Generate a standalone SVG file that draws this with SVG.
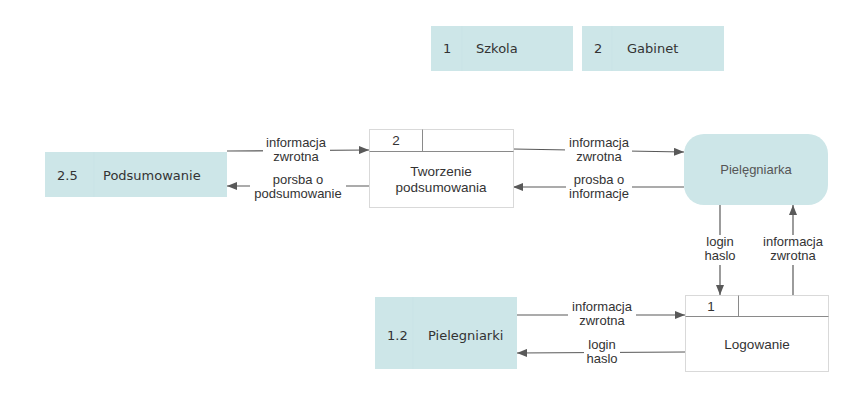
<svg xmlns="http://www.w3.org/2000/svg" width="867" height="409" viewBox="0 0 867 409">
<defs>
<marker id="ah" markerWidth="10" markerHeight="8" refX="10" refY="4" orient="auto" markerUnits="userSpaceOnUse">
<path d="M0,0 L10,4 L0,8 Z" fill="#595959"/>
</marker>
<style>
.store{fill:#cde6e8;stroke:none}
.div{stroke:#c9e3e6;stroke-width:1}
.st{font-family:"DejaVu Sans",Verdana,sans-serif;font-size:13px;fill:#333}
.proc{fill:#fff;stroke:#d9d9d9;stroke-width:1}
.pl{stroke:#8a8a8a;stroke-width:1}
.pt{font-family:"Liberation Sans",Arial,sans-serif;font-size:13.5px;fill:#333;text-anchor:middle}
.ent{fill:#cde6e8;stroke:none}
.et{font-family:"Liberation Sans",Arial,sans-serif;font-size:13px;fill:#555;text-anchor:middle}
.c{stroke:#595959;stroke-width:1.2;fill:none;marker-end:url(#ah)}
.lbg{fill:#fff}
.lt{font-family:"Liberation Sans",Arial,sans-serif;font-size:13px;fill:#333;text-anchor:middle}
</style>
</defs>
<rect width="867" height="409" fill="#fff"/>

<g id="connectors">
<line class="c" x1="227" y1="151" x2="369" y2="150"/>
<line class="c" x1="369" y1="186" x2="227" y2="186"/>
<line class="c" x1="513" y1="149" x2="684" y2="152"/>
<line class="c" x1="684" y1="187" x2="513" y2="187"/>
<line class="c" x1="720" y1="205" x2="720" y2="295"/>
<line class="c" x1="793" y1="295" x2="793" y2="205"/>
<line class="c" x1="517" y1="315" x2="685" y2="315"/>
<line class="c" x1="685" y1="352" x2="517" y2="353"/>
<g>
<rect class="lbg" x="263" y="135" width="67" height="30"/>
<text class="lt" x="296" y="147">informacja</text>
<text class="lt" x="296" y="161">zwrotna</text>
<rect class="lbg" x="250" y="172" width="96" height="30"/>
<text class="lt" x="298" y="184">porsba o</text>
<text class="lt" x="298" y="198">podsumowanie</text>
<rect class="lbg" x="565" y="135" width="67" height="30"/>
<text class="lt" x="599" y="147">informacja</text>
<text class="lt" x="599" y="161">zwrotna</text>
<rect class="lbg" x="566" y="172" width="66" height="30"/>
<text class="lt" x="599" y="184">prosba o</text>
<text class="lt" x="599" y="198">informacje</text>
<rect class="lbg" x="703" y="235" width="34" height="30"/>
<text class="lt" x="720" y="246">login</text>
<text class="lt" x="720" y="260">haslo</text>
<rect class="lbg" x="759" y="235" width="68" height="30"/>
<text class="lt" x="793" y="246">informacja</text>
<text class="lt" x="793" y="260">zwrotna</text>
<rect class="lbg" x="568" y="300" width="68" height="30"/>
<text class="lt" x="602" y="311">informacja</text>
<text class="lt" x="602" y="325">zwrotna</text>
<rect class="lbg" x="584" y="338" width="36" height="30"/>
<text class="lt" x="602" y="349">login</text>
<text class="lt" x="602" y="363">haslo</text>
</g>
</g>

<g id="store-szkola">
<rect class="store" x="431" y="26" width="142" height="45"/>
<line class="div" x1="462" y1="26" x2="462" y2="71"/>
<text class="st" x="443" y="53">1</text>
<text class="st" x="476" y="53">Szkola</text>
</g>

<g id="store-gabinet">
<rect class="store" x="582" y="26" width="142" height="45"/>
<line class="div" x1="612" y1="26" x2="612" y2="71"/>
<text class="st" x="594" y="53">2</text>
<text class="st" x="627" y="53">Gabinet</text>
</g>

<g id="store-podsumowanie">
<rect class="store" x="45" y="152" width="182" height="45"/>
<line class="div" x1="94" y1="152" x2="94" y2="197"/>
<text class="st" x="57" y="180">2.5</text>
<text class="st" x="103" y="180">Podsumowanie</text>
</g>

<g id="store-pielegniarki">
<rect class="store" x="375" y="297" width="142" height="72"/>
<line class="div" x1="413" y1="297" x2="413" y2="369"/>
<text class="st" x="387" y="340">1.2</text>
<text class="st" x="428" y="340">Pielegniarki</text>
</g>

<g id="proc-tworzenie">
<rect class="proc" x="369.5" y="129.5" width="144" height="78"/>
<line class="pl" x1="369.5" y1="151.5" x2="513.5" y2="151.5"/>
<line class="pl" x1="422.5" y1="129.5" x2="422.5" y2="151.5"/>
<text class="pt" x="396" y="145">2</text>
<text class="pt" x="441" y="176">Tworzenie</text>
<text class="pt" x="441" y="192">podsumowania</text>
</g>

<g id="entity-pielegniarka">
<rect class="ent" x="684" y="134" width="144" height="71" rx="20" ry="20"/>
<text class="et" x="756" y="174">Pielęgniarka</text>
</g>

<g id="proc-logowanie">
<rect class="proc" x="685.5" y="295.5" width="143" height="76"/>
<line class="pl" x1="685.5" y1="316.5" x2="828.5" y2="316.5"/>
<line class="pl" x1="738.5" y1="295.5" x2="738.5" y2="316.5"/>
<text class="pt" x="711" y="311">1</text>
<text class="pt" x="757" y="349">Logowanie</text>
</g>
</svg>
